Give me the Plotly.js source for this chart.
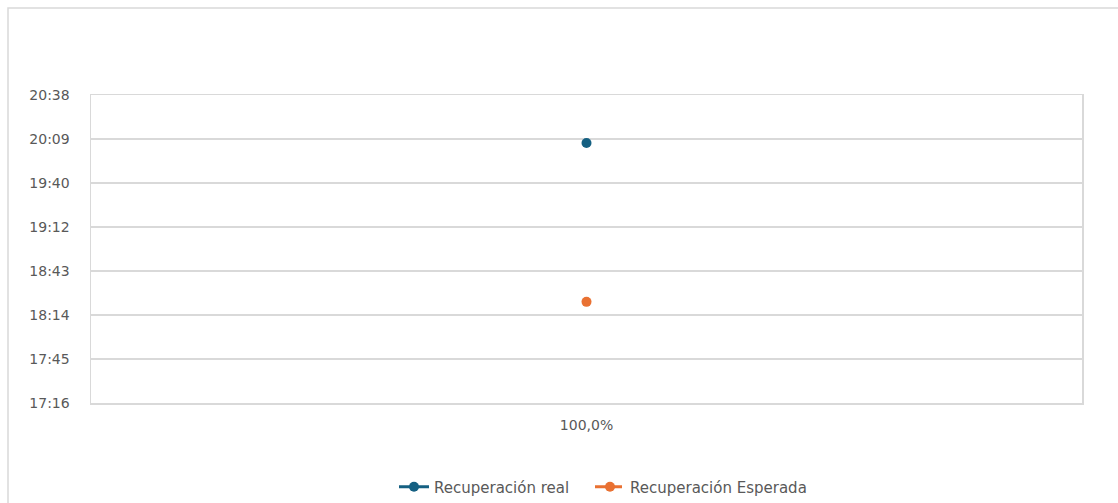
<!DOCTYPE html>
<html>
<head>
<meta charset="utf-8">
<script src="https://cdn.plot.ly/plotly-3.0.1.min.js"></script>
<style>
  html, body { margin: 0; padding: 0; background: #ffffff; }
  #chart { width: 1118px; height: 503px; }
</style>
</head>
<body>
<div id="chart"></div>
<script>
// ---- data ----
const categories = ["100,0%"];
const realTimes = ["20:07"];       // Recuperación real
const expectedTimes = ["18:23"];   // Recuperación Esperada
const seriesNames = ["Recuperación real", "Recuperación Esperada"];
const tickTexts = ["17:16", "17:45", "18:14", "18:43", "19:12", "19:40", "20:09", "20:38"];
const tickDayFractions = [0.72, 0.74, 0.76, 0.78, 0.80, 0.82, 0.84, 0.86];

function toDayFraction(hhmm) {
  const p = hhmm.split(":");
  return (parseInt(p[0], 10) * 60 + parseInt(p[1], 10)) / 1440;
}

const blue = "#156082";
const orange = "#E97132";
const fontFam = "'DejaVu Sans', 'Open Sans', sans-serif";

const traces = [
  {
    x: categories,
    y: realTimes.map(toDayFraction),
    name: seriesNames[0],
    type: "scatter",
    mode: "lines+markers",
    line: { color: blue, width: 3 },
    marker: { color: blue, size: 10 },
    legend: "legend"
  },
  {
    x: categories,
    y: expectedTimes.map(toDayFraction),
    name: seriesNames[1],
    type: "scatter",
    mode: "lines+markers",
    line: { color: orange, width: 3, dash: "12px,3px" },
    marker: { color: orange, size: 10 },
    legend: "legend2"
  }
];

const legendFont = { family: fontFam, size: 15, color: "#595959" };

const layout = {
  width: 1118,
  height: 503,
  margin: { l: 91, r: 36, t: 95, b: 100, autoexpand: false },
  paper_bgcolor: "#ffffff",
  plot_bgcolor: "#ffffff",
  font: { family: fontFam, size: 14, color: "#595959" },
  showlegend: true,
  legend: {
    orientation: "h",
    x: (575 - 91) / 991, xanchor: "right",
    y: -0.273, yanchor: "middle",
    font: legendFont
  },
  legend2: {
    orientation: "h",
    x: (590 - 91) / 991, xanchor: "left",
    y: -0.273, yanchor: "middle",
    font: legendFont
  },
  xaxis: {
    type: "category",
    range: [-0.5, 0.5],
    showgrid: false,
    showline: true,
    linecolor: "#d9d9d9",
    linewidth: 1.5,
    mirror: true,
    ticks: "",
    ticklabelstandoff: 9,
    tickfont: { family: fontFam, size: 14, color: "#595959" },
    zeroline: false,
    fixedrange: true
  },
  yaxis: {
    range: [0.72, 0.86],
    tickmode: "array",
    tickvals: tickDayFractions,
    ticktext: tickTexts,
    showgrid: true,
    gridcolor: "#d9d9d9",
    gridwidth: 1.5,
    showline: true,
    linecolor: "#d9d9d9",
    linewidth: 1.5,
    mirror: true,
    ticks: "",
    ticklabelstandoff: 17,
    tickfont: { family: fontFam, size: 14, color: "#595959" },
    zeroline: false,
    fixedrange: true
  },
  shapes: [
    {
      type: "rect",
      xref: "paper", yref: "paper",
      x0: (8 - 91) / 991, x1: 1.2,
      y0: -0.5, y1: (403 - 8) / 308,
      line: { color: "#d9d9d9", width: 1.5 },
      fillcolor: "rgba(0,0,0,0)",
      layer: "below"
    }
  ]
};

Plotly.newPlot("chart", traces, layout, { displayModeBar: false, staticPlot: true });
</script>
</body>
</html>
